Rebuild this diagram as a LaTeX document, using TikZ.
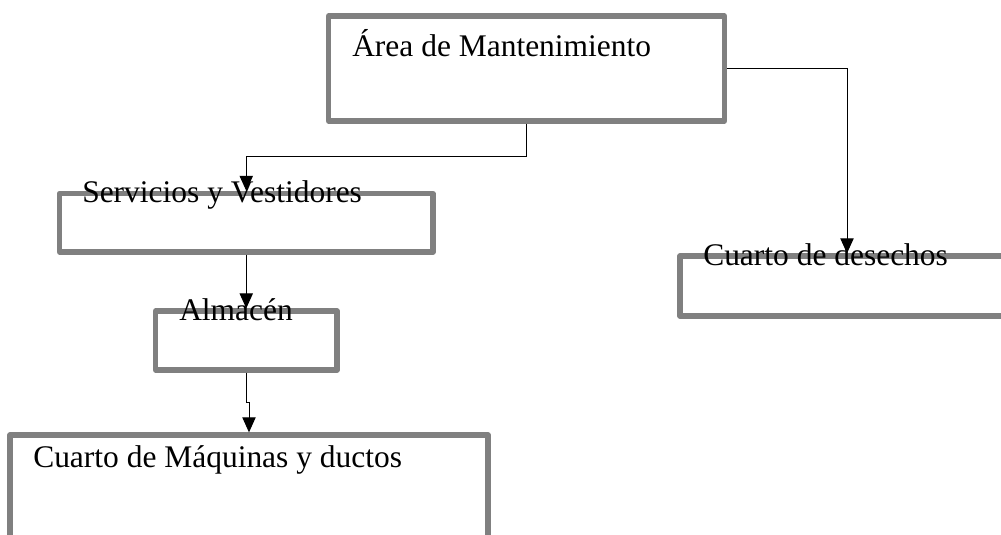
\documentclass[tikz,border=0pt]{standalone}
\usepackage{fontspec}
\setmainfont{Liberation Serif}
\usetikzlibrary{arrows.meta}
\definecolor{boxgray}{HTML}{808080}
\tikzset{
  box/.style={draw=boxgray, line width=4pt, line join=round, fill=none, inner sep=0pt},
  lbl/.style={anchor=base west, inner sep=0pt, font=\fontsize{23.6}{28}\selectfont},
  conn/.style={draw=black, line width=0.75pt, -{Triangle[length=11.25pt,width=10pt]}}
}
\begin{document}
\begin{tikzpicture}[x=0.75pt, y=-0.75pt]
\useasboundingbox (0,0) rectangle (1001,535);
\clip (0,0) rectangle (1001,535);
% boxes
\node[box, minimum width=297pt, minimum height=78.75pt] (b1) at (526.5,68.5) {};
\node[box, minimum width=280.1pt, minimum height=43.9pt] (b2) at (246.25,222.75) {};
\node[box, minimum width=136.1pt, minimum height=44.25pt] (b3) at (246.25,340.5) {};
\node[box, minimum width=358.5pt, minimum height=112.5pt] (b4) at (249,510) {};
\node[box, minimum width=250.5pt, minimum height=45pt] (b5) at (847,286) {};
% labels
\node[lbl] (t1) at (352,57) {Área de Mantenimiento};
\node[lbl] (t2) at (82,203) {Servicios y Vestidores};
\node[lbl] (t3) at (179,320) {Almacén};
\node[lbl] (t4) at (33,467) {Cuarto de Máquinas y ductos};
\node[lbl] (t5) at (703,265) {Cuarto de desechos};
% connectors
\draw[conn] (b1.south) -- ++(0,33) -| (b2.north);
\draw[conn] (b2.south) -- (b3.north);
\draw[conn] (b3.south) -- ++(0,30) -| (b4.north);
\draw[conn] (b1.east) -| (b5.north);
\end{tikzpicture}
\end{document}
